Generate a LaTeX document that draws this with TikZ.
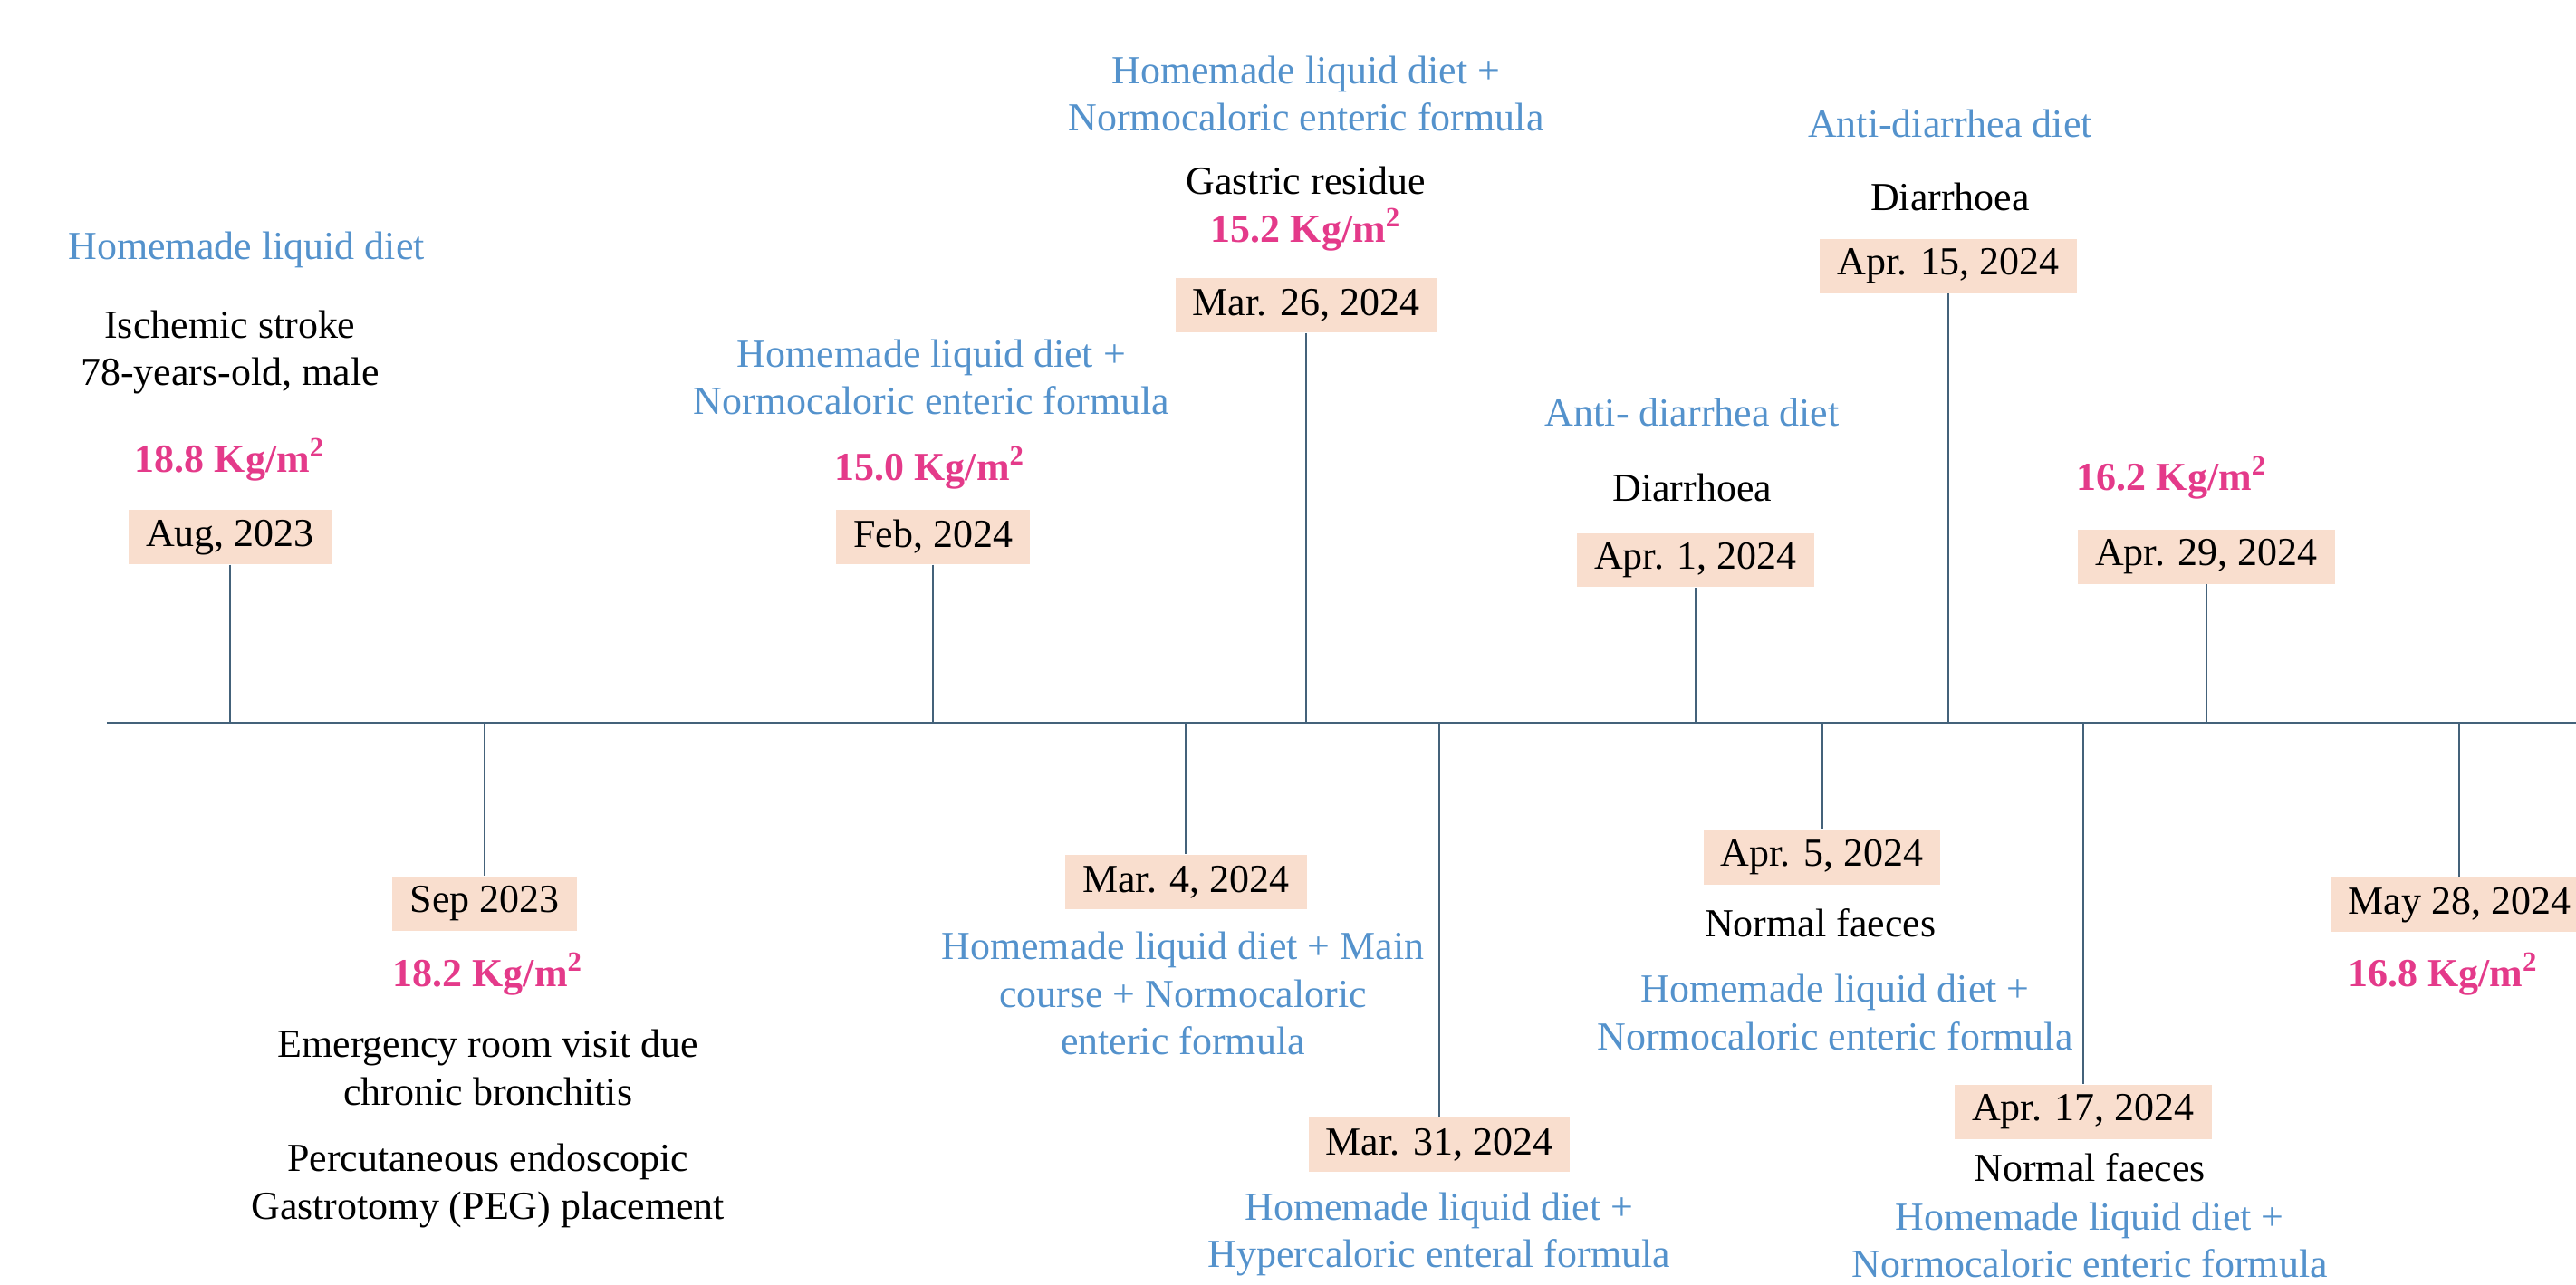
\documentclass[tikz,border=0pt]{standalone}
\usepackage{fontspec}
\setmainfont{Liberation Serif}
\usetikzlibrary{positioning}
\definecolor{lineaeje}{RGB}{68,98,122}
\definecolor{azuldieta}{RGB}{84,146,204}
\definecolor{rosaimc}{RGB}{228,58,138}
\definecolor{fondofecha}{RGB}{249,222,206}

\begin{document}
\begin{tikzpicture}[x=0.02cm,y=-0.02cm,
  fecha/.style={fill=fondofecha,inner xsep=6pt,inner ysep=0pt,minimum height=0.66cm,
                font=\fontsize{13.8}{16.5}\selectfont},
  texto/.style={align=center,inner sep=0pt,font=\fontsize{13.8}{16.5}\selectfont},
  dieta/.style={texto,text=azuldieta},
  imc/.style={texto,text=rosaimc,font=\fontsize{13.8}{16.5}\selectfont\bfseries},
  eje/.style={draw=lineaeje,line width=0.9pt},
  marca/.style={draw=lineaeje,line width=0.7pt}
]
\useasboundingbox (0,0) rectangle (1568,782);

\coordinate (tl) at (65,440);
\coordinate (tr) at (1568,440);
\draw[eje] (tl) -- (tr);

% above the line
\node[fecha] (f1) at (140,327) {Aug, 2023};
\node[imc]   (i1) at (140,280) {18.8 Kg/m\textsuperscript{2}};
\node[texto] (t1) at (140,214.5) {Ischemic stroke\\78-years-old, male};
\node[dieta] (d1) at (150,152) {Homemade liquid diet};

\node[fecha] (f2) at (568,327) {Feb, 2024};
\node[imc]   (i2) at (566,285) {15.0 Kg/m\textsuperscript{2}};
\node[dieta] (d2) at (567,229.5) {Homemade liquid diet +\\Normocaloric enteric formula};

\node[fecha] (f3) at (795,186) {Mar. 26, 2024};
\node[imc]   (i3) at (795,140) {15.2 Kg/m\textsuperscript{2}};
\node[texto] (t3) at (795,110) {Gastric residue};
\node[dieta] (d3) at (795,57) {Homemade liquid diet +\\Normocaloric enteric formula};

\node[fecha] (f4) at (1032,341) {Apr. 1, 2024};
\node[texto] (t4) at (1030,297) {Diarrhoea};
\node[dieta] (d4) at (1030,251) {Anti- diarrhea diet};

\node[fecha] (f5) at (1186,162) {Apr. 15, 2024};
\node[texto] (t5) at (1187,120) {Diarrhoea};
\node[dieta] (d5) at (1187,75) {Anti-diarrhea diet};

\node[fecha] (f6) at (1343,339) {Apr. 29, 2024};
\node[imc]   (i6) at (1322,291) {16.2 Kg/m\textsuperscript{2}};

% below the line
\node[fecha] (f7) at (295,550) {Sep 2023};
\node[imc]   (i7) at (297,593) {18.2 Kg/m\textsuperscript{2}};
\node[texto] (t7) at (297,650) {Emergency room visit due\\chronic bronchitis};
\node[texto] (u7) at (297,722) {Percutaneous endoscopic\\Gastrotomy (PEG) placement};

\node[fecha] (f8) at (722,537) {Mar. 4, 2024};
\node[dieta] (d8) at (720,605) {Homemade liquid diet + Main\\course + Normocaloric\\enteric formula};

\node[fecha] (f9) at (876,697) {Mar. 31, 2024};
\node[dieta] (d9) at (876,751.5) {Homemade liquid diet +\\Hypercaloric enteral formula};

\node[fecha] (f10) at (1109,522) {Apr. 5, 2024};
\node[texto] (t10) at (1108,562) {Normal faeces};
\node[dieta] (d10) at (1117,616.5) {Homemade liquid diet +\\Normocaloric enteric formula};

\node[fecha] (f11) at (1268,677) {Apr. 17, 2024};
\node[texto] (t11) at (1272,711) {Normal faeces};
\node[dieta] (d11) at (1272,755) {Homemade liquid diet +\\Normocaloric enteric formula};

\node[fecha] (f12) at (1497,551) {May 28, 2024};
\node[imc]   (i12) at (1487,593) {16.8 Kg/m\textsuperscript{2}};

\foreach \n in {f1,f2,f3,f4,f5,f6}
  \draw[marca] (\n.south) -- (\n.south |- tl);
\foreach \n in {f7,f8,f9,f10,f11,f12}
  \draw[marca] (\n.north |- tl) -- (\n.north);
\end{tikzpicture}
\end{document}
